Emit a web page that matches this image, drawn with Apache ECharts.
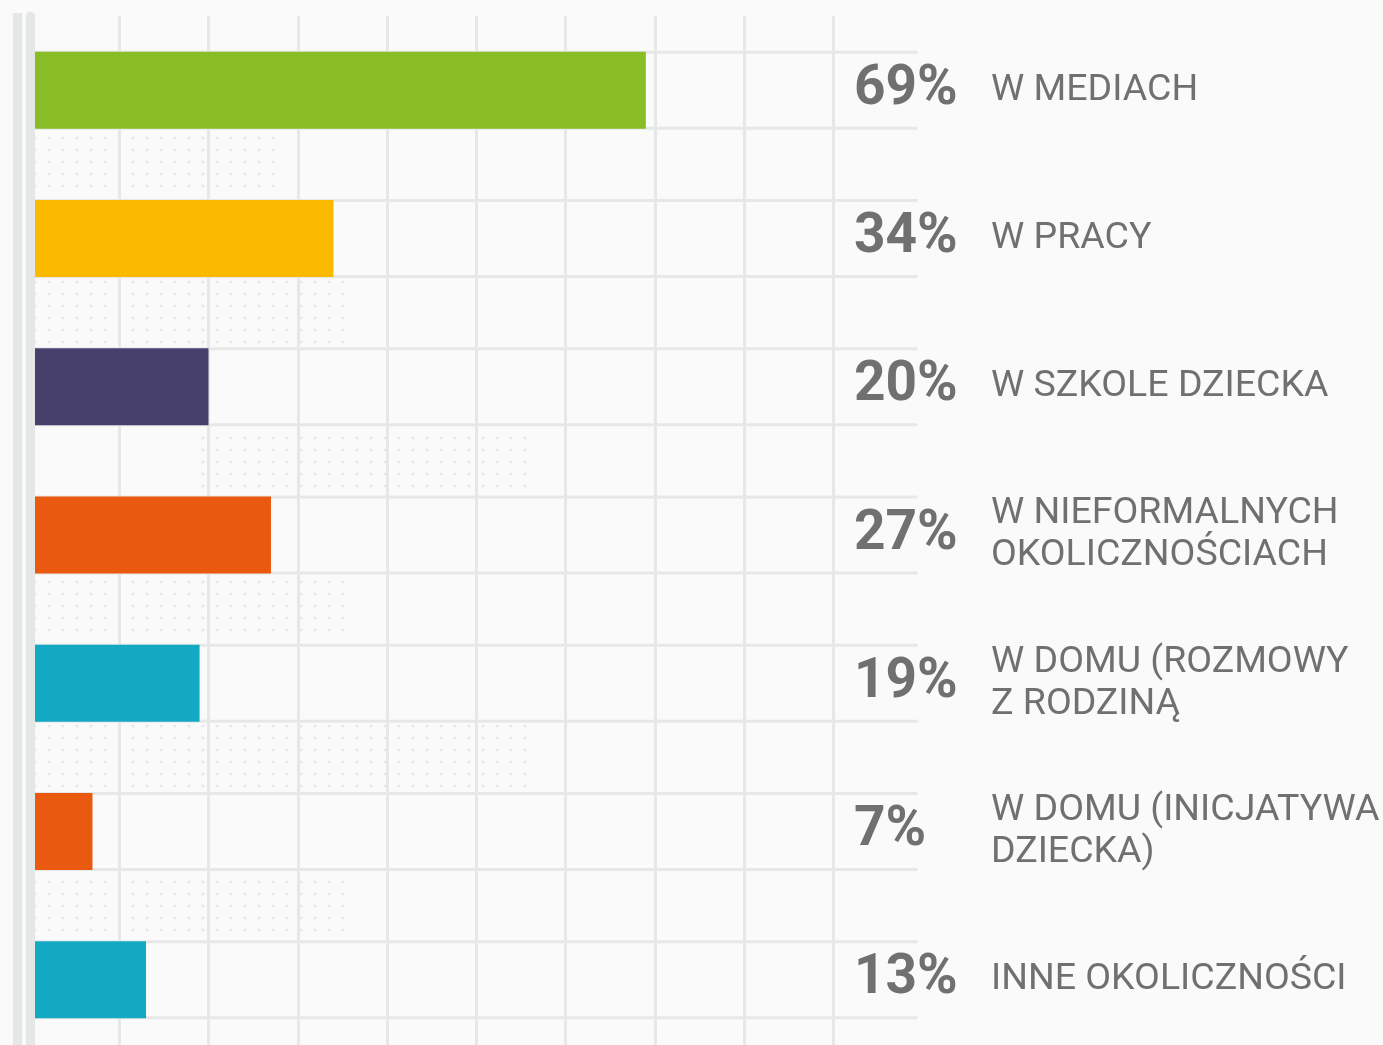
<!DOCTYPE html>
<html>
<head>
<meta charset="utf-8">
<script src="https://cdn.jsdelivr.net/npm/echarts@6/dist/echarts.min.js"></script>
<style>
html, body { margin: 0; padding: 0; background: #fafafa; overflow: hidden; }
#chart { width: 1383px; height: 1045px; }
</style>
</head>
<body>
<div id="chart"></div>
<script>
const categories = [
  'W MEDIACH',
  'W PRACY',
  'W SZKOLE DZIECKA',
  'W NIEFORMALNYCH\nOKOLICZNOŚCIACH',
  'W DOMU (ROZMOWY\nZ RODZINĄ',
  'W DOMU (INICJATYWA\nDZIECKA)',
  'INNE OKOLICZNOŚCI',
]
const values = [69, 34, 20, 27, 19, 7, 13]
const barColors = ['#88bd26', '#fbb900', '#48406c', '#e9590f', '#14a9c2', '#e9590f', '#14a9c2']

const TEXT_COLOR = '#707070'
const LINE_COLOR = '#e6e7e7'
const BAR_HEIGHT = 77

// faint dot texture used in the gaps between bars
function dotPattern() {
  const c = document.createElement('canvas')
  c.width = 14
  c.height = 12
  const ctx = c.getContext('2d')
  ctx.fillStyle = '#e6e6e6'
  ctx.beginPath()
  ctx.ellipse(7, 6, 1.6, 1.3, 0, 0, Math.PI * 2)
  ctx.fill()
  return c
}

const dotAreas = [
  [35, 132, 245, 64],
  [35, 281, 315, 64],
  [200, 429, 330, 64],
  [35, 578, 315, 62],
  [35, 724, 495, 68],
  [35, 876, 315, 62],
]

function buildOption() {
  const pattern = dotPattern()
  return {
    backgroundColor: '#fafafa',
    animation: false,
    grid: {
      left: 30,
      top: 16,
      width: 892.5,
      height: 1037.75,
      outerBoundsMode: 'none',
      containLabel: false,
    },
    graphic: [
      {
        type: 'rect',
        shape: { x: 13, y: 13, width: 9, height: 1032 },
        style: { fill: '#e5e6e6' },
        z: 10,
      },
      ...dotAreas.map(([x, y, w, h]) => ({
        type: 'rect',
        shape: { x, y, width: w, height: h },
        style: { fill: { image: pattern, repeat: 'repeat' } },
        z: -1,
        silent: true,
      })),
    ],
    xAxis: {
      type: 'value',
      min: 0,
      max: 100,
      interval: 10,
      axisLine: { show: false },
      axisTick: { show: false },
      axisLabel: { show: false },
      splitLine: {
        show: true,
        showMinLine: false,
        showMaxLine: false,
        lineStyle: { color: LINE_COLOR, width: 3 },
      },
    },
    yAxis: [
      {
        type: 'category',
        data: categories,
        inverse: true,
        position: 'left',
        z: 5,
        axisLine: { show: true, lineStyle: { color: '#e5e6e6', width: 9 } },
        axisTick: { show: false },
        axisLabel: { show: false },
      },
      {
        type: 'category',
        data: categories,
        inverse: true,
        position: 'right',
        axisLine: { show: false },
        axisTick: { show: false },
        axisLabel: {
          margin: -68.5,
          align: 'left',
          padding: [8, 0, 0, 0],
          formatter: (v, i) => values[i] + '%',
          fontFamily: 'Roboto',
          fontWeight: 'bold',
          fontSize: 55,
          color: TEXT_COLOR,
        },
      },
      {
        type: 'category',
        data: categories,
        inverse: true,
        position: 'right',
        axisLine: { show: false },
        axisTick: { show: false },
        axisLabel: {
          margin: 68.5,
          align: 'left',
          padding: [4, 0, 0, 0],
          fontFamily: 'Roboto',
          fontSize: 37.5,
          lineHeight: 42,
          color: TEXT_COLOR,
        },
      },
    ],
    series: [
      {
        // horizontal rules along the top and bottom edge of each bar
        type: 'custom',
        z: 1,
        silent: true,
        data: categories.map((_, i) => [100, i]),
        encode: { x: 0, y: 1 },
        renderItem(params, api) {
          const y = api.coord([0, api.value(1)])[1]
          const x0 = api.coord([0, api.value(1)])[0]
          const x1 = api.coord([100, api.value(1)])[0] - 5
          const half = BAR_HEIGHT / 2 - 0.5
          const style = { stroke: LINE_COLOR, lineWidth: 3 }
          return {
            type: 'group',
            children: [
              { type: 'line', shape: { x1: x0, y1: y - half, x2: x1, y2: y - half }, style },
              { type: 'line', shape: { x1: x0, y1: y + half, x2: x1, y2: y + half }, style },
            ],
          }
        },
      },
      {
        type: 'bar',
        z: 2,
        barWidth: BAR_HEIGHT,
        data: values.map((v, i) => ({ value: v, itemStyle: { color: barColors[i] } })),
      },
    ],
  }
}

const chart = echarts.init(document.getElementById('chart'))
chart.setOption(buildOption())
window.addEventListener('resize', () => chart.resize())
</script>
</body>
</html>
